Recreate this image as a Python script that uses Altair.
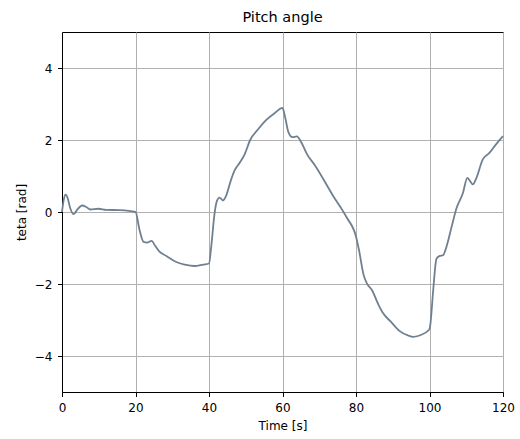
import altair as alt
import pandas as pd

time_s = [0, 0.5, 1.0, 1.5, 2.2, 3.2, 4.1, 5.5, 6.6, 7.7, 9.9, 12.0, 15.7, 20.0,
          21.1, 22.2, 23.1, 24.4, 25.3, 26.6, 28.4, 31.1, 33.4, 36.1, 38.4, 40.0,
          40.6, 41.5, 42.2, 42.9, 43.8, 44.7, 45.8, 47.0, 48.3, 49.7, 51.2, 53.3,
          55.6, 57.9, 60.0, 60.7, 61.6, 62.7, 63.9, 65.1, 66.7, 68.8, 73.7, 77.4,
          80.1, 80.8, 82.1, 83.0, 84.4, 86.0, 87.3, 89.6, 91.9, 94.2, 95.5, 97.3,
          99.9, 100.2, 101.0, 101.9, 102.8, 103.7, 104.6, 106.0, 107.3, 109.1,
          110.3, 110.9, 111.8, 112.7, 114.5, 116.3, 118.1, 120.0]
teta_rad = [0.0, 0.35, 0.48, 0.40, 0.12, -0.06, 0.06, 0.18, 0.14, 0.07, 0.09, 0.06, 0.05, 0.0,
            -0.5, -0.83, -0.85, -0.8, -0.93, -1.11, -1.22, -1.39, -1.46, -1.5, -1.46, -1.43,
            -0.97, -0.05, 0.32, 0.40, 0.32, 0.46, 0.83, 1.16, 1.36, 1.6, 2.0, 2.29,
            2.56, 2.75, 2.89, 2.64, 2.22, 2.08, 2.1, 1.94, 1.6, 1.3, 0.46, -0.14,
            -0.72, -1.05, -1.76, -1.99, -2.18, -2.55, -2.8, -3.06, -3.31, -3.43, -3.47, -3.43,
            -3.27, -3.15, -2.18, -1.30, -1.22, -1.2, -0.97, -0.42, 0.09, 0.53,
            0.95, 0.88, 0.77, 0.93, 1.46, 1.64, 1.88, 2.11]

x_ticks = [0, 20, 40, 60, 80, 100, 120]
y_ticks = [-4, -2, 0, 2, 4]

df = pd.DataFrame({"t": time_s, "teta": teta_rad})

FONT = "DejaVu Sans"

chart = alt.Chart(df).mark_line(
    color="#708090", strokeWidth=1.8, interpolate="monotone"
).encode(
    x=alt.X("t:Q", title="Time [s]",
            scale=alt.Scale(domain=[0, 120], nice=False, zero=False),
            axis=alt.Axis(values=x_ticks, format="d")),
    y=alt.Y("teta:Q", title="teta [rad]",
            scale=alt.Scale(domain=[-5, 5], nice=False, zero=False),
            axis=alt.Axis(values=y_ticks, format="d")),
).properties(
    width=441, height=360,
    title=alt.TitleParams("Pitch angle", font=FONT, fontSize=14.5, fontWeight="normal",
                          color="black", offset=7),
    autosize=alt.AutoSizeParams(type="none"),
    padding={"left": 62, "top": 32, "right": 17, "bottom": 47},
).configure_view(
    stroke="black", strokeWidth=1
).configure_axis(
    domainColor="black", domainWidth=1,
    tickColor="black", tickSize=4.5, tickWidth=1,
    labelFont=FONT, labelFontSize=12, labelColor="black", labelPadding=5.5,
    labelFlush=False, labelOverlap=False,
    titleFont=FONT, titleFontSize=12, titleFontWeight="normal", titleColor="black",
    grid=True, gridColor="#b0b0b0", gridWidth=1,
).configure_axisX(
    titlePadding=7
).configure_axisY(
    titlePadding=5.5
)

chart.save("out.html", embed_options={"renderer": "svg", "actions": False})
